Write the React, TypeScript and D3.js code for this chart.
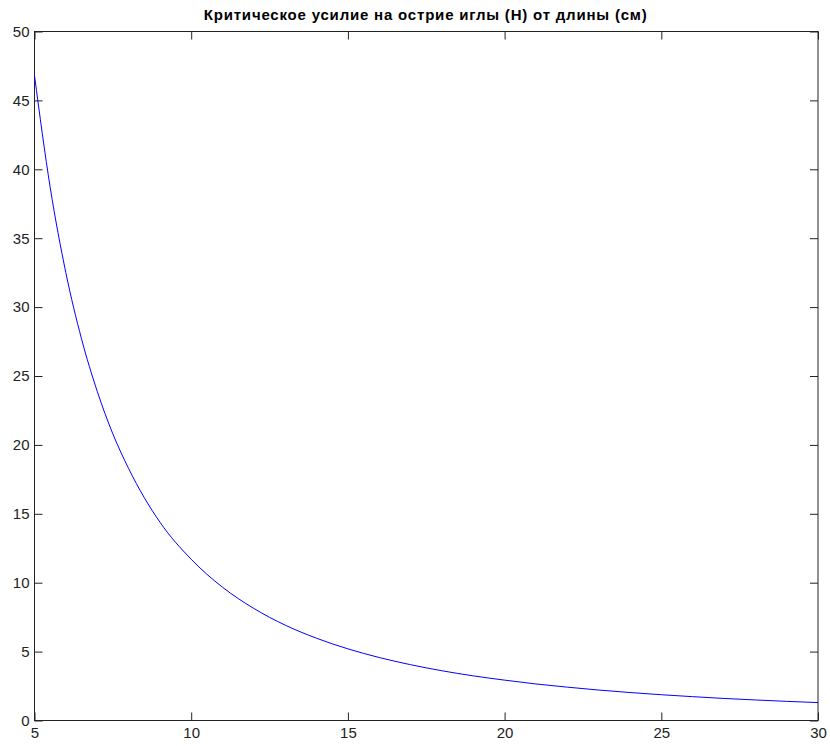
import React, { useEffect, useRef } from "react";
import * as d3 from "d3";

const width = 830;
const height = 746;

const title = "Критическое усилие на острие иглы (Н) от длины (см)";

// длина (см)
const lengths = [5, 5.5, 6, 6.5, 7, 7.5, 8, 9, 10, 11, 12, 13, 14, 15, 16, 17, 18, 19, 20, 21, 22, 23, 24, 25, 26, 27, 28, 29, 30];
// усилие (Н)
const forces = [46.8, 38.7, 32.5, 27.7, 23.9, 20.8, 18.3, 14.4, 11.7, 9.67, 8.13, 6.92, 5.97, 5.2, 4.57, 4.05, 3.61, 3.24, 2.93, 2.65, 2.42, 2.21, 2.03, 1.87, 1.73, 1.6, 1.49, 1.39, 1.3];

const xTicks = [5, 10, 15, 20, 25, 30];
const yTicks = [0, 5, 10, 15, 20, 25, 30, 35, 40, 45, 50];

const margin = { top: 31.5, right: 12, bottom: 25.5, left: 34.5 };

export default function App() {
  const ref = useRef<SVGSVGElement>(null);

  useEffect(() => {
    const svg = d3.select(ref.current);
    svg.selectAll("*").remove();

    const x = d3.scaleLinear().domain([5, 30]).range([margin.left, width - margin.right]);
    const y = d3.scaleLinear().domain([0, 50]).range([height - margin.bottom, margin.top]);

    svg.append("rect").attr("width", width).attr("height", height).attr("fill", "#fff");

    const font = "'Liberation Sans', Arial, sans-serif";

    // рамка
    svg.append("rect")
      .attr("x", x(5)).attr("y", y(50))
      .attr("width", x(30) - x(5)).attr("height", y(0) - y(50))
      .attr("fill", "none").attr("stroke", "#222").attr("stroke-width", 1);

    // кривая
    const line = d3.line<number>()
      .x((d, i) => x(lengths[i]))
      .y((d) => y(d))
      .curve(d3.curveMonotoneX);

    svg.append("path")
      .datum(forces)
      .attr("fill", "none")
      .attr("stroke", "#0000ff")
      .attr("stroke-width", 1)
      .attr("d", line);

    const tickLen = 8;

    // оси: тики внутрь, подписи только снизу и слева
    const bottom = d3.axisBottom(x).tickValues(xTicks).tickSize(-tickLen).tickPadding(7);
    const gx = svg.append("g").attr("transform", `translate(0,${y(0)})`).call(bottom);
    const top = d3.axisTop(x).tickValues(xTicks).tickSize(-tickLen).tickFormat(() => "");
    const gxt = svg.append("g").attr("transform", `translate(0,${y(50)})`).call(top);

    const left = d3.axisLeft(y).tickValues(yTicks).tickSize(-tickLen).tickPadding(5);
    const gy = svg.append("g").attr("transform", `translate(${x(5)},0)`).call(left);
    const right = d3.axisRight(y).tickValues(yTicks).tickSize(-tickLen).tickFormat(() => "");
    const gyr = svg.append("g").attr("transform", `translate(${x(30)},0)`).call(right);

    [gx, gxt, gy, gyr].forEach((g) => {
      g.select(".domain").remove();
      g.selectAll("line").attr("stroke", "#222");
      g.selectAll("text").attr("fill", "#222").style("font-family", font).style("font-size", "15px");
    });

    svg.append("text")
      .attr("x", (x(5) + x(30)) / 2 - 1)
      .attr("y", 19.5)
      .attr("text-anchor", "middle")
      .attr("textLength", 443)
      .attr("lengthAdjust", "spacing")
      .style("font-family", font)
      .style("font-size", "15px")
      .style("font-weight", "bold")
      .text(title);
  }, []);

  return (
    <svg
      ref={ref}
      width={width}
      height={height}
      style={{ display: "block", position: "absolute", left: 0, top: 0 }}
    />
  );
}
